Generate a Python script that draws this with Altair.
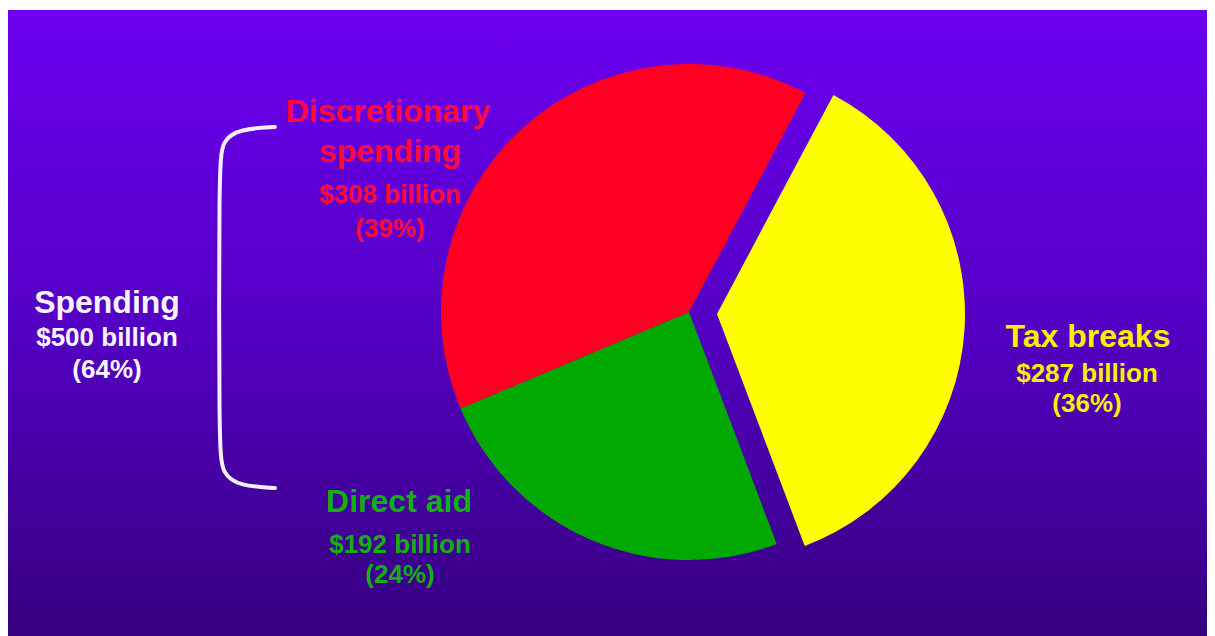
import altair as alt
import pandas as pd

# ---- data ----
names = ["Tax breaks", "Direct aid", "Discretionary spending"]
values = [287, 192, 308]
slice_colors = ["#ffff00", "#00a800", "#ff0022"]

label_lines = [
    "Spending", "$500 billion", "(64%)",
    "Discretionary", "spending", "$308 billion", "(39%)",
    "Direct aid", "$192 billion", "(24%)",
    "Tax breaks", "$287 billion", "(36%)",
]

# ---- layout (page pixel positions of label lines) ----
label_x = [107, 107, 107, 388, 390, 390, 390, 399, 400, 400, 1088, 1087, 1087]
label_y = [313, 346, 378, 122, 162, 203, 237, 512, 553, 583, 347, 382, 412]
label_size = [32, 26, 26, 32, 32, 26, 26, 32, 26, 26, 32, 26, 26]
label_color = ["#f8f4ff"] * 3 + ["#ff0a3a"] * 4 + ["#12b012"] * 3 + ["#f8f000"] * 3

bracket_x = [275, 240, 222, 219, 219, 222, 240, 275]
bracket_y = [127, 129, 140, 168, 446, 474, 486, 488]

W, H = 1199, 626
OX, OY = 8, 10
CX, CY = 689, 312
R = 248
EXPLODE_DX, EXPLODE_DY = 28, 2
START = 28 / 180 * 3.141592653589793

pie_df = pd.DataFrame({"name": names, "value": values, "idx": list(range(len(names)))})
lab_df = pd.DataFrame({"text": label_lines, "x": label_x, "y": label_y,
                       "size": label_size, "color": label_color})
br_df = pd.DataFrame({"x": bracket_x, "y": bracket_y, "i": list(range(len(bracket_x)))})

xs = alt.Scale(domain=[OX, OX + W], range=[0, W])
ys = alt.Scale(domain=[OY, OY + H], range=[0, H])

bg = alt.Chart(pd.DataFrame({"a": [0]})).mark_rect(
    color=alt.Gradient(
        gradient="linear",
        stops=[alt.GradientStop(color="#6c00f0", offset=0),
               alt.GradientStop(color="#5400c4", offset=0.5),
               alt.GradientStop(color="#36007e", offset=1)],
        x1=0, x2=0, y1=0, y2=1,
    )
).encode(x=alt.value(0), x2=alt.value(W), y=alt.value(0), y2=alt.value(H))

theta = alt.Theta("value:Q", stack=True,
                  scale=alt.Scale(range=[START, START + 2 * 3.141592653589793]))
color = alt.Color("name:N", scale=alt.Scale(domain=names, range=slice_colors), legend=None)
order = alt.Order("idx:Q")

pie_main = alt.Chart(pie_df).mark_arc(radius=R, x=CX - OX, y=CY - OY).encode(
    theta=theta, color=color, order=order,
    opacity=alt.condition("datum.name == 'Tax breaks'", alt.value(0), alt.value(1)),
)
pie_explode = alt.Chart(pie_df).mark_arc(
    radius=R, x=CX - OX + EXPLODE_DX, y=CY - OY + EXPLODE_DY
).encode(
    theta=theta, color=color, order=order,
    opacity=alt.condition("datum.name == 'Tax breaks'", alt.value(1), alt.value(0)),
)

bracket = alt.Chart(br_df).mark_line(
    color="#f4eeff", strokeWidth=4, interpolate="basis", strokeCap="round"
).encode(
    x=alt.X("x:Q", scale=xs, axis=None),
    y=alt.Y("y:Q", scale=ys, axis=None),
    order="i:Q",
)

labels = alt.Chart(lab_df).mark_text(
    font="Liberation Sans", fontWeight="bold", align="center", baseline="alphabetic"
).encode(
    x=alt.X("x:Q", scale=xs, axis=None),
    y=alt.Y("y:Q", scale=ys, axis=None),
    text="text:N",
    size=alt.Size("size:Q", scale=None),
    color=alt.Color("color:N", scale=None),
)

chart = alt.layer(bg, pie_main, pie_explode, bracket, labels).resolve_scale(
    color="independent"
).properties(
    width=W, height=H,
    padding={"left": 0, "top": 2, "right": 0, "bottom": 0},
    autosize=alt.AutoSizeParams(type="none"),
    background="white",
).configure_view(stroke=None)

chart.save("out.html", embed_options={"renderer": "svg", "actions": False})
